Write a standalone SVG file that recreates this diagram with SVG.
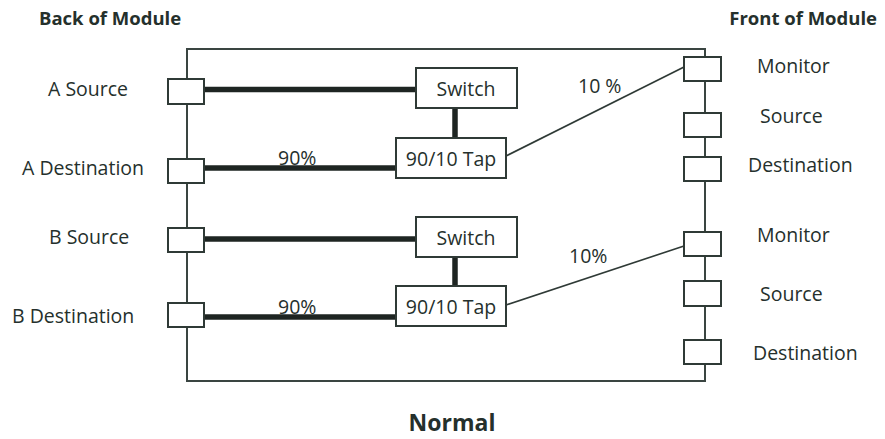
<svg xmlns="http://www.w3.org/2000/svg" width="885" height="439" viewBox="0 0 885 439">
<style>
text{font-family:"Open Sans","Liberation Sans",sans-serif;fill:#25302c}
.lbl{font-size:19.5px}
.hdr{font-size:18.5px;font-weight:bold}
.ttl{font-size:23px;font-weight:bold}
.box{fill:#fff;stroke:#2f3a36;stroke-width:2}
.frame{fill:none;stroke:#3a4541;stroke-width:2}
.thick{stroke:#1e2522;stroke-width:5.5;fill:none}
.thin{stroke:#2f3a36;stroke-width:1.6;fill:none}
</style>
<rect width="885" height="439" fill="#fff"/>
<text class="hdr" x="39" y="25">Back of Module</text>
<text class="hdr" x="877" y="25" text-anchor="end">Front of Module</text>
<text class="ttl" x="452" y="431" text-anchor="middle">Normal</text>
<rect class="frame" x="187" y="49" width="518" height="332"/>
<g id="connectors">
<line class="thick" x1="204" y1="89.5" x2="416" y2="89.5"/>
<line class="thick" x1="204" y1="168" x2="396" y2="168"/>
<line class="thick" x1="455" y1="108" x2="455" y2="138"/>
<line class="thin" x1="506" y1="156" x2="684" y2="67"/>
<line class="thick" x1="204" y1="239" x2="416" y2="239"/>
<line class="thick" x1="204" y1="317" x2="396" y2="317"/>
<line class="thick" x1="455" y1="257" x2="455" y2="286"/>
<line class="thin" x1="506" y1="305" x2="684" y2="246"/>
<text class="lbl" x="278" y="165">90%</text>
<text class="lbl" x="578" y="93">10 %</text>
<text class="lbl" x="278" y="314">90%</text>
<text class="lbl" x="569" y="263">10%</text>
</g>
<g id="a-source"><rect class="box" x="168" y="79" width="36" height="25"/><text class="lbl" x="48" y="96">A Source</text></g>
<g id="a-destination"><rect class="box" x="168" y="159" width="36" height="24"/><text class="lbl" x="22" y="175">A Destination</text></g>
<g id="b-source"><rect class="box" x="168" y="228" width="36" height="24"/><text class="lbl" x="49" y="244">B Source</text></g>
<g id="b-destination"><rect class="box" x="168" y="303" width="36" height="24"/><text class="lbl" x="12" y="323">B Destination</text></g>
<g id="switch-a"><rect class="box" x="416" y="68" width="101" height="40"/><text class="lbl" x="466" y="96" text-anchor="middle">Switch</text></g>
<g id="tap-a"><rect class="box" x="396" y="138" width="110" height="40"/><text class="lbl" x="451" y="166" text-anchor="middle">90/10 Tap</text></g>
<g id="switch-b"><rect class="box" x="416" y="217" width="101" height="40"/><text class="lbl" x="466" y="245" text-anchor="middle">Switch</text></g>
<g id="tap-b"><rect class="box" x="396" y="286" width="110" height="40"/><text class="lbl" x="451" y="314" text-anchor="middle">90/10 Tap</text></g>
<g id="monitor-a"><rect class="box" x="684" y="57" width="37" height="24"/><text class="lbl" x="757" y="73">Monitor</text></g>
<g id="source-a"><rect class="box" x="684" y="113" width="37" height="24"/><text class="lbl" x="760" y="123">Source</text></g>
<g id="destination-a"><rect class="box" x="684" y="157" width="37" height="24"/><text class="lbl" x="748" y="172">Destination</text></g>
<g id="monitor-b"><rect class="box" x="684" y="232" width="37" height="24"/><text class="lbl" x="757" y="242">Monitor</text></g>
<g id="source-b"><rect class="box" x="684" y="281" width="37" height="25"/><text class="lbl" x="760" y="301">Source</text></g>
<g id="destination-b"><rect class="box" x="684" y="340" width="37" height="24"/><text class="lbl" x="753" y="360">Destination</text></g>
</svg>
